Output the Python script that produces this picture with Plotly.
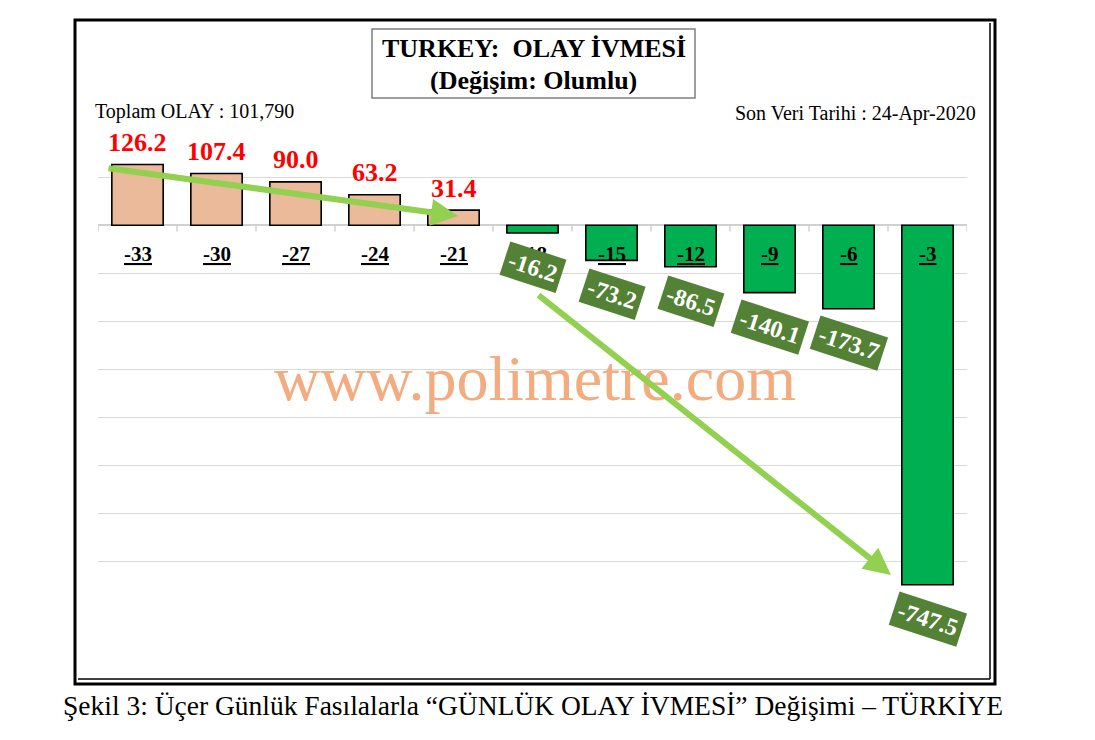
import plotly.graph_objects as go

categories = ["-33", "-30", "-27", "-24", "-21", "-18", "-15", "-12", "-9", "-6", "-3"]
values = [126.2, 107.4, 90.0, 63.2, 31.4, -16.2, -73.2, -86.5, -140.1, -173.7, -747.5]
value_labels = ["126.2", "107.4", "90.0", "63.2", "31.4", "-16.2", "-73.2", "-86.5", "-140.1", "-173.7", "-747.5"]

title_lines = ["TURKEY:  OLAY İVMESİ", "(Değişim: Olumlu)"]
left_note = "Toplam OLAY : 101,790"
right_note = "Son Veri Tarihi : 24-Apr-2020"
watermark = "www.polimetre.com"
caption = "Şekil 3: Üçer Günlük Fasılalarla “GÜNLÜK OLAY İVMESİ” Değişimi – TÜRKİYE"

POS_COLOR = "#EBBA9B"
NEG_COLOR = "#00B050"
SERIF = "Liberation Serif"

OFF = 8  # browser body margin
W, H = 1095 - OFF, 740 - OFF
# plot area in reference pixels: x 98..967, y 129..610
PX0, PX1, PY0, PY1 = 98, 967, 129, 610
L, T = PX0 - OFF, PY0 - OFF
R, B = W - (PX1 - OFF), H - (PY1 - OFF)
PW, PH = PX1 - PX0, PY1 - PY0


def px(xp):
    return (xp - PX0) / PW


def py(yp):
    return (PY1 - yp) / PH


fig = go.Figure()
fig.add_trace(go.Bar(
    x=categories, y=values,
    marker=dict(color=[POS_COLOR if v >= 0 else NEG_COLOR for v in values],
                line=dict(color="black", width=1.6)),
    width=0.65, hoverinfo="skip",
))

annotations = []
shapes = []


def note(xr, yr, text, size, bold=False, xanchor="center", color="black"):
    annotations.append(dict(x=px(xr), y=py(yr), xref="paper", yref="paper", xanchor=xanchor,
                            yanchor="middle", showarrow=False,
                            text=f"<b>{text}</b>" if bold else text,
                            font=dict(family=SERIF, size=size, color=color)))


# watermark (behind arrows)
note(535, 378, watermark, 64, color="#F3AC80")

# category labels on zero line
for i, c in enumerate(categories):
    annotations.append(dict(x=i, y=0, xref="x", yref="y", yshift=-29, showarrow=False,
                            xanchor="center", yanchor="middle",
                            text=f"<b><u>{c}</u></b>", font=dict(family=SERIF, size=21, color="black")))

# tick marks between categories
for i in range(len(categories) + 1):
    shapes.append(dict(type="line", xref="x", yref="y", x0=i - 0.5, x1=i - 0.5, y0=0, y1=-13,
                       line=dict(color="#D0D0D0", width=1.5), layer="below"))

# arrows
annotations.append(dict(x=px(458), y=py(216), xref="paper", yref="paper", ax=-351, ay=-48,
                        axref="pixel", ayref="pixel", showarrow=True, arrowhead=2, arrowsize=0.9,
                        arrowwidth=6, arrowcolor="#92D050", text=""))
annotations.append(dict(x=px(891), y=py(575), xref="paper", yref="paper", ax=-354, ay=-281,
                        axref="pixel", ayref="pixel", showarrow=True, arrowhead=2, arrowsize=0.9,
                        arrowwidth=6, arrowcolor="#92D050", text=""))

# value labels
for i, (v, t) in enumerate(zip(values, value_labels)):
    if v >= 0:
        annotations.append(dict(x=i, y=v, xref="x", yref="y", yshift=22, showarrow=False,
                                xanchor="center", yanchor="middle",
                                text=f"<b>{t}</b>", font=dict(family=SERIF, size=26, color="#FF0000")))
    else:
        annotations.append(dict(x=i, y=v, xref="x", yref="y", yshift=-34, showarrow=False,
                                xanchor="center", yanchor="middle",
                                text=f"<b>{t}</b>", textangle=18, bgcolor="#538135", borderpad=4,
                                font=dict(family=SERIF, size=24, color="white")))

# title box
shapes.append(dict(type="rect", xref="paper", yref="paper", x0=px(372), x1=px(695), y0=py(98), y1=py(29),
                   line=dict(color="#7F7F7F", width=1.5), fillcolor="white", layer="above"))
note(534, 48, title_lines[0], 26, bold=True)
note(533, 80, title_lines[1], 26, bold=True)

note(93, 111, left_note, 20, xanchor="left")
note(978, 113, right_note, 20, xanchor="right")

# outer frame
shapes.append(dict(type="rect", xref="paper", yref="paper", x0=px(75), x1=px(995), y0=py(684), y1=py(20),
                   line=dict(color="black", width=3)))
shapes.append(dict(type="line", xref="paper", yref="paper", x0=px(990), x1=px(990), y0=py(679), y1=py(23),
                   line=dict(color="black", width=1.5)))
shapes.append(dict(type="line", xref="paper", yref="paper", x0=px(78), x1=px(990), y0=py(679), y1=py(679),
                   line=dict(color="black", width=1.5)))

note(533, 705, caption, 27.5)

fig.update_layout(
    width=W, height=H,
    margin=dict(l=L, r=R, t=T, b=B),
    paper_bgcolor="white", plot_bgcolor="white",
    showlegend=False, bargap=0.35,
    xaxis=dict(type="category", showticklabels=False, showgrid=False, zeroline=False,
               ticks="", range=[-0.5, len(categories) - 0.5], fixedrange=True),
    yaxis=dict(range=[-800, 200], dtick=100, showticklabels=False, showgrid=True,
               gridcolor="#D9D9D9", gridwidth=1.3, zeroline=True, zerolinecolor="#D0D0D0",
               zerolinewidth=1.5, ticks="", fixedrange=True),
    annotations=annotations, shapes=shapes,
)

fig.write_html("out.html")
